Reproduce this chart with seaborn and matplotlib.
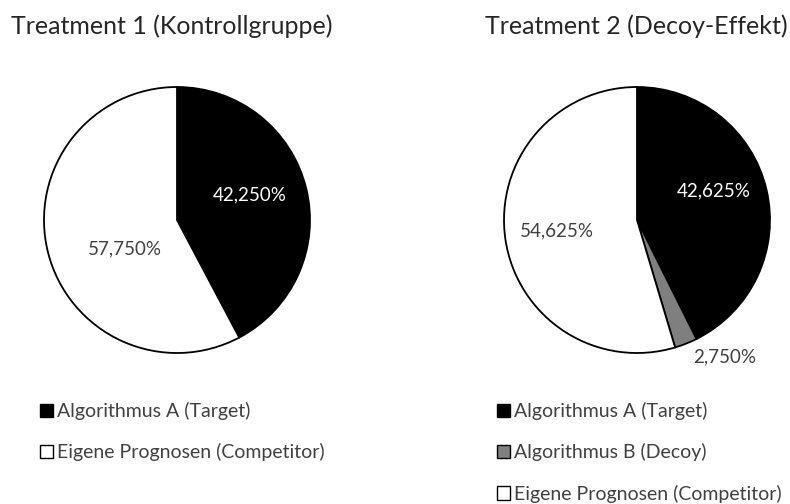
import matplotlib
matplotlib.use("Agg")
import matplotlib.pyplot as plt
from matplotlib.patches import Patch
import seaborn as sns

sns.set_theme(style="white")
plt.rcParams['font.family'] = ['Lato', 'DejaVu Sans']

# ---- data ----
titles = ["Treatment 1 (Kontrollgruppe)", "Treatment 2 (Decoy-Effekt)"]
labels_t1 = ["Algorithmus A (Target)", "Eigene Prognosen (Competitor)"]
values_t1 = [42.250, 57.750]
labels_t2 = ["Algorithmus A (Target)", "Algorithmus B (Decoy)", "Eigene Prognosen (Competitor)"]
values_t2 = [42.625, 2.750, 54.625]
color_map = {"Algorithmus A (Target)": "#000000",
             "Algorithmus B (Decoy)": "#7f7f7f",
             "Eigene Prognosen (Competitor)": "#ffffff"}

W, H = 790, 504
fig = plt.figure(figsize=(W / 100, H / 100), dpi=100)
fig.patch.set_facecolor("white")


def fmt(p):
    return f"{p:.3f}%".replace(".", ",")


def draw(ax_rect, values, labels, title, title_x, legend_x, legend_y, label_pos):
    ax = fig.add_axes(ax_rect)
    cols = [color_map[l] for l in labels]
    wedges, texts, autotexts = ax.pie(
        values, colors=cols, startangle=90, counterclock=False,
        autopct=fmt, pctdistance=0.57,
        wedgeprops=dict(edgecolor="black", linewidth=1.3),
        textprops=dict(fontsize=13.5, color="#404040"))
    for t, lab, pos in zip(autotexts, labels, label_pos):
        if color_map[lab] == "#000000":
            t.set_color("white")
        t.set_position(pos)
    ax.set_xlim(-1, 1)
    ax.set_ylim(-1, 1)
    ax.set_aspect("equal")
    ax.axis("off")
    fig.text(title_x, 1 - 26 / H, title, fontsize=18, color="#262626",
             ha="left", va="center")
    handles = [Patch(facecolor=color_map[l], edgecolor="black", linewidth=1.0, label=l)
               for l in labels]
    fig.legend(handles=handles, loc="upper left",
               bbox_to_anchor=(legend_x, legend_y), frameon=False,
               fontsize=14, handlelength=0.68, handleheight=0.68,
               handletextpad=0.18, labelspacing=1.2, labelcolor="#404040",
               borderpad=0, borderaxespad=0)
    return ax


draw([(177 - 133) / W, (H - 353) / H, 266 / W, 266 / H],
     values_t1, labels_t1, titles[0], 11 / W, 40 / W, 1 - 402 / H,
     [(0.545, 0.19), (-0.39, -0.22)])
draw([(637 - 134) / W, (H - 353) / H, 268 / W, 266 / H],
     values_t2, labels_t2, titles[1], 485 / W, 497 / W, 1 - 402 / H,
     [(0.58, 0.22), (0.66, -1.03), (-0.60, -0.08)])

fig.savefig("out.png", dpi=100, facecolor="white")
